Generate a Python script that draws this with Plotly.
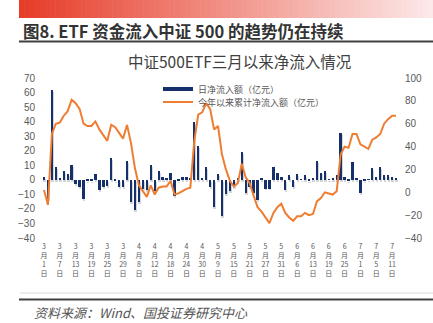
import plotly.graph_objects as go

# ---------------- data ----------------
tick_labels = ["3月1日", "3月7日", "3月13日", "3月19日", "3月25日", "3月29日",
               "4月8日", "4月12日", "4月18日", "4月24日", "4月30日", "5月9日",
               "5月15日", "5月21日", "5月27日", "5月31日", "6月6日", "6月13日",
               "6月19日", "6月25日", "7月1日", "7月5日", "7月11日"]

daily_inflow = [2, -13, 62, 9, 1, 6, 4, 10, -3, -5,
                -13, -1, -1, 4, -7, -5, -4, 15, -1, -5,
                -5, 13, -15, -21, -15, -6, -7, 10, -8, 6,
                2, 1, 5, -11, -1, 2, 2, 1, 40, 23,
                1, 9, -5, -19, 4, -25, -10, -8, -5, 1,
                19, -9, -5, -9, -14, 1, -6, -6, 9, 5,
                2, -7, 3, -5, 4, 0.5, 3, -1, 1, 13,
                5, 6, 0.5, 1, 3, 32, 2, -1, 12, 1,
                -9, -1, 0.5, 8, 2, 9, 3, 3, 2, 1]

cumulative_inflow = [2, -11, 51, 60, 61, 67, 71, 81, 78, 73,
                     60, 58, 58, 62, 55, 50, 45, 59, 57, 52,
                     47, 59, 43, 21, 6, 1, -4, 6, -2, 4,
                     5, 5, 10, -2, -1, 1, 3, 4, 45, 68,
                     70, 78, 73, 55, 58, 33, 20, 10, 5, 8,
                     25, 13, 8, -3, -13, -17, -22, -27, -18, -13,
                     -10, -18, -22, -25, -21, -21, -18, -20, -19, -8,
                     -5, 0, -1, -2, 1, 33, 40, 39, 51, 51,
                     42, 40, 38, 46, 48, 51, 60, 64, 67, 67]

day_index = list(range(len(daily_inflow)))
tick_positions = list(range(0, len(daily_inflow), 4))[:len(tick_labels)]

left_ticks = list(range(-40, 71, 10))
right_ticks = list(range(-40, 101, 20))

# ---------------- styling ----------------
W, H = 433, 323
L_M, R_M, T_M, B_M = 42, 35, 78, 85
PW, PH = W - L_M - R_M, H - T_M - B_M

NAVY = "#16306C"
ORANGE = "#EE7D31"
GREY_TXT = "#595959"
CJK = "Noto Sans CJK SC"


def px(x):
    return (x - L_M) / PW


def py(y):
    return (H - B_M - y) / PH


def vertical(label):
    # stack the label vertically: "3月13日" -> 3 / 月 / 13 / 日
    parts = []
    buf = ""
    for ch in label:
        if ch.isdigit():
            buf += ch
        else:
            if buf:
                parts.append(buf)
                buf = ""
            parts.append(ch)
    if buf:
        parts.append(buf)
    return "<br>".join(parts)


fig = go.Figure()

# soft drop shadow of the bars
fig.add_trace(go.Bar(
    x=day_index, y=daily_inflow, base=-1.3, offset=-0.15, width=0.62,
    marker=dict(color="rgba(0,0,0,0.16)", line=dict(width=0)),
    showlegend=False, hoverinfo="skip", yaxis="y"))

fig.add_trace(go.Bar(
    x=day_index, y=daily_inflow, width=0.6, offset=-0.3,
    marker=dict(color=NAVY, line=dict(width=0)),
    name="日净流入额（亿元）", showlegend=False, yaxis="y"))

# legend entry for the bars (short thick bar symbol)
fig.add_trace(go.Scatter(
    x=[None], y=[None], mode="lines", line=dict(color=NAVY, width=4),
    name="日净流入额（亿元）", yaxis="y", legend="legend"))

fig.add_trace(go.Scatter(
    x=day_index, y=cumulative_inflow, mode="lines",
    line=dict(color=ORANGE, width=2),
    name="今年以来累计净流入额（亿元）", yaxis="y2", legend="legend2"))

shapes = []
# gradient header band
n = 80
x0, x1 = 19, W
c0 = (230, 60, 40)
c1 = (252, 232, 232)
for k in range(n):
    t = k / (n - 1)
    col = tuple(int(round(c0[j] + (c1[j] - c0[j]) * t)) for j in range(3))
    xa = x0 + (x1 - x0) * k / n
    xb = x0 + (x1 - x0) * (k + 1) / n + 0.6
    shapes.append(dict(type="rect", xref="paper", yref="paper",
                       x0=px(xa), x1=px(xb), y0=py(18), y1=py(0),
                       fillcolor="rgb(%d,%d,%d)" % col, line=dict(width=0), layer="below"))
# rule under header
shapes.append(dict(type="line", xref="paper", yref="paper", x0=px(19), x1=px(W),
                   y0=py(41.5), y1=py(41.5), line=dict(color="#404040", width=2)))
# light line at chart bottom
shapes.append(dict(type="line", xref="paper", yref="paper", x0=px(20), x1=px(W),
                   y0=py(293), y1=py(293), line=dict(color="#D9D9D9", width=1)))
# dark rule above source
shapes.append(dict(type="line", xref="paper", yref="paper", x0=px(19), x1=px(W),
                   y0=py(299.5), y1=py(299.5), line=dict(color="#404040", width=2)))

annotations = [
    dict(text="<b>图8. ETF 资金流入中证 500 的趋势仍在持续</b>", xref="paper", yref="paper",
         x=px(21), y=py(31), xanchor="left", yanchor="middle", showarrow=False,
         font=dict(family=CJK, size=16.5, color="#333333")),
    dict(text="中证500ETF三月以来净流入情况", xref="paper", yref="paper",
         x=px(239), y=py(61), xanchor="center", yanchor="middle", showarrow=False,
         font=dict(family=CJK, size=15.5, color="#404040")),
    dict(text="<i>资料来源：Wind、国投证券研究中心</i>", xref="paper", yref="paper",
         x=px(32), y=py(312), xanchor="left", yanchor="middle", showarrow=False,
         font=dict(family=CJK, size=13, color="#555555")),
]

legend_common = dict(xanchor="left", yanchor="middle", bgcolor="rgba(0,0,0,0)",
                     font=dict(family=CJK, size=9, color=GREY_TXT),
                     itemwidth=30, borderwidth=0)

fig.update_layout(
    width=W, height=H,
    margin=dict(l=L_M, r=R_M, t=T_M, b=B_M, pad=0),
    paper_bgcolor="white", plot_bgcolor="white",
    barmode="overlay", bargap=0,
    showlegend=True,
    legend=dict(x=px(158), y=py(89), **legend_common),
    legend2=dict(x=px(158), y=py(102), **legend_common),
    xaxis=dict(range=[-0.5, len(daily_inflow) - 0.5], tickmode="array",
               tickvals=tick_positions, ticktext=[vertical(t) for t in tick_labels],
               tickangle=0, showgrid=False, zeroline=False, showline=False, ticks="",
               tickfont=dict(family=CJK, size=7, color=GREY_TXT), ticklabelstandoff=3),
    yaxis=dict(range=[-40, 70], tickmode="array", tickvals=left_ticks,
               showgrid=False, zeroline=False, showline=False, ticks="",
               tickfont=dict(family="Liberation Sans", size=10, color=GREY_TXT),
               ticklabelstandoff=6),
    yaxis2=dict(range=[-40, 100], tickmode="array", tickvals=right_ticks,
                overlaying="y", side="right",
                showgrid=False, zeroline=False, showline=False, ticks="",
                tickfont=dict(family="Liberation Sans", size=10, color=GREY_TXT),
                ticklabelstandoff=6),
    shapes=shapes, annotations=annotations,
)

fig.write_html("out.html")
